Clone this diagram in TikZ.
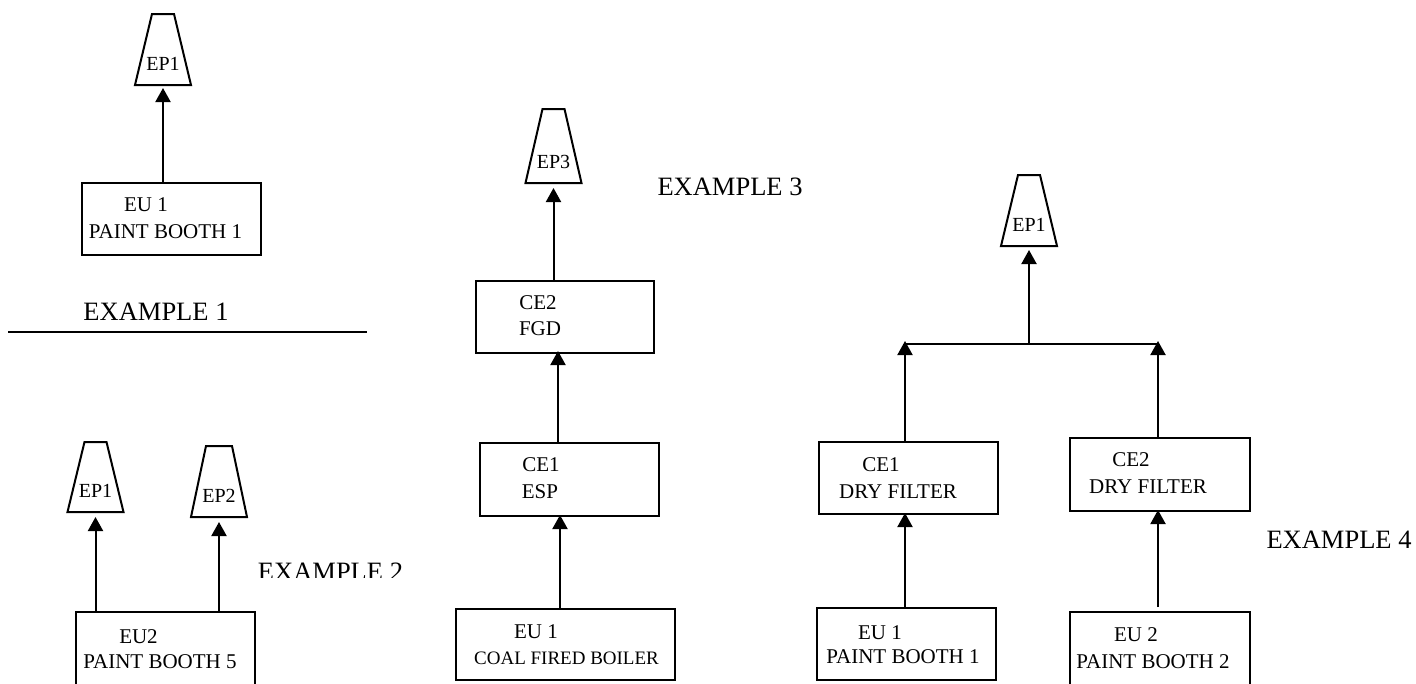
\documentclass[tikz,border=0pt]{standalone}
\usepackage{fontspec}
\setmainfont{Liberation Serif}
\usetikzlibrary{arrows.meta,calc}
\newcommand\chimney[7]{%
  \draw[line,line join=miter] (#2-#5,#3) -- (#2+#5,#3) -- (#2+#6,#4) -- (#2-#6,#4) -- cycle;
  \coordinate (#1) at (#2,#4);
  \node[eplabel] (#1-l) at (#2,#4-21) {#7};}
\begin{document}
\begin{tikzpicture}[x=1pt,y=-1pt,
  line/.style={line width=2pt},
  box/.style={draw,line width=2pt,inner sep=0pt,outer sep=0pt},
  arr/.style={line width=2pt,-{Triangle[width=15pt,length=14pt]}},
  txt/.style={inner sep=0pt,font=\fontsize{21}{25}\selectfont},
  smalltxt/.style={inner sep=0pt,font=\fontsize{19}{23}\selectfont},
  big/.style={inner sep=0pt,font=\fontsize{26.5}{31}\selectfont},
  eplabel/.style={inner sep=0pt,font=\fontsize{20}{24}\selectfont}]
\useasboundingbox (0,0) rectangle (1416,683);
\clip (0,0) rectangle (1416,683);

% ---------- Example 1 ----------
\chimney{epa}{163}{14}{85}{11}{28}{EP1}
\node[box,minimum width=179pt,minimum height=72pt] (eua) at (171.5,219) {};
\node[txt] (eua-1) at (146,205) {EU 1};
\node[txt] (eua-2) at (165.5,232) {PAINT BOOTH 1};
\draw[arr,shorten >=3pt] (epa |- eua.north) -- (epa);
\node[big] (ex1) at (156,312) {EXAMPLE 1};
\coordinate (sepl) at (8,332);
\coordinate (sepr) at (367,332);
\draw[line] (sepl) -- (sepr);

% ---------- Example 2 ----------
\chimney{epb}{95.5}{442}{512}{11}{28}{EP1}
\chimney{epc}{219}{446}{517}{13}{28}{EP2}
\node[box,minimum width=179pt,minimum height=88pt] (eub) at (165.5,656) {};
\node[txt] (eub-1) at (138.5,637) {EU2};
\node[txt] (eub-2) at (160,662) {PAINT BOOTH 5};
\draw[arr,shorten >=5pt] (epb |- eub.north) -- (epb);
\draw[arr,shorten >=5pt] (epc |- eub.north) -- (epc);
\begin{scope}
  \clip (240,540) rectangle (420,577);
  \node[big] (ex2) at (330.5,572) {EXAMPLE 2};
\end{scope}

% ---------- Example 3 ----------
\chimney{epd}{553.5}{109}{183}{11}{28}{EP3}
\node[box,minimum width=178pt,minimum height=72pt] (ce2c) at (565,317) {};
\node[txt] (ce2c-1) at (538,303) {CE2};
\node[txt] (ce2c-2) at (540,329) {FGD};
\node[box,minimum width=179pt,minimum height=73pt] (ce1c) at (569.5,479.5) {};
\node[txt] (ce1c-1) at (541,465) {CE1};
\node[txt] (ce1c-2) at (540,492) {ESP};
\node[box,minimum width=219pt,minimum height=71pt] (euc) at (565.5,644.5) {};
\node[txt] (euc-1) at (536,632) {EU 1};
\node[smalltxt] (euc-2) at (566.5,658) {COAL FIRED BOILER};
\draw[arr,shorten >=5pt] (epd |- ce2c.north) -- (epd);
\coordinate (c3a) at ([xshift=-11.5pt]ce1c.north);
\draw[arr,shorten >=-2pt] (c3a) -- (c3a |- ce2c.south);
\coordinate (c3b) at ([xshift=-5.5pt]euc.north);
\draw[arr,shorten >=-1pt] (c3b) -- (c3b |- ce1c.south);
\node[big] (ex3) at (730,187) {EXAMPLE 3};

% ---------- Example 4 ----------
\chimney{epe}{1029}{175}{246}{11}{28}{EP1}
\coordinate (jl) at (905,344);
\coordinate (jr) at (1158,344);
\draw[line] (jl) -- (jr);
\draw[arr,shorten >=4pt] (epe |- jl) -- (epe);
\node[box,minimum width=179pt,minimum height=72pt] (ce1d) at (908.5,478) {};
\node[txt] (ce1d-1) at (881,465) {CE1};
\node[txt] (ce1d-2) at (898,492) {DRY FILTER};
\node[box,minimum width=180pt,minimum height=73pt] (ce2d) at (1160,474.5) {};
\node[txt] (ce2d-1) at (1131,460) {CE2};
\node[txt] (ce2d-2) at (1148,487) {DRY FILTER};
\node[box,minimum width=179pt,minimum height=72pt] (eud) at (906.5,644) {};
\node[txt] (eud-1) at (880,633) {EU 1};
\node[txt] (eud-2) at (903,657) {PAINT BOOTH 1};
\node[box,minimum width=180pt,minimum height=88pt] (eue) at (1160,656) {};
\node[txt] (eue-1) at (1136,635) {EU 2};
\node[txt] (eue-2) at (1153,662) {PAINT BOOTH 2};
\draw[arr,shorten >=-3pt] (jl |- ce1d.north) -- (jl);
\draw[arr,shorten >=-3pt] (jr |- ce2d.north) -- (jr);
\draw[arr,shorten >=-1pt] (jl |- eud.north) -- (jl |- ce1d.south);
\draw[arr,shorten <=5pt,shorten >=-1pt] (jr |- eue.north) -- (jr |- ce2d.south);
\node[big] (ex4) at (1339,540) {EXAMPLE 4};
\end{tikzpicture}
\end{document}
